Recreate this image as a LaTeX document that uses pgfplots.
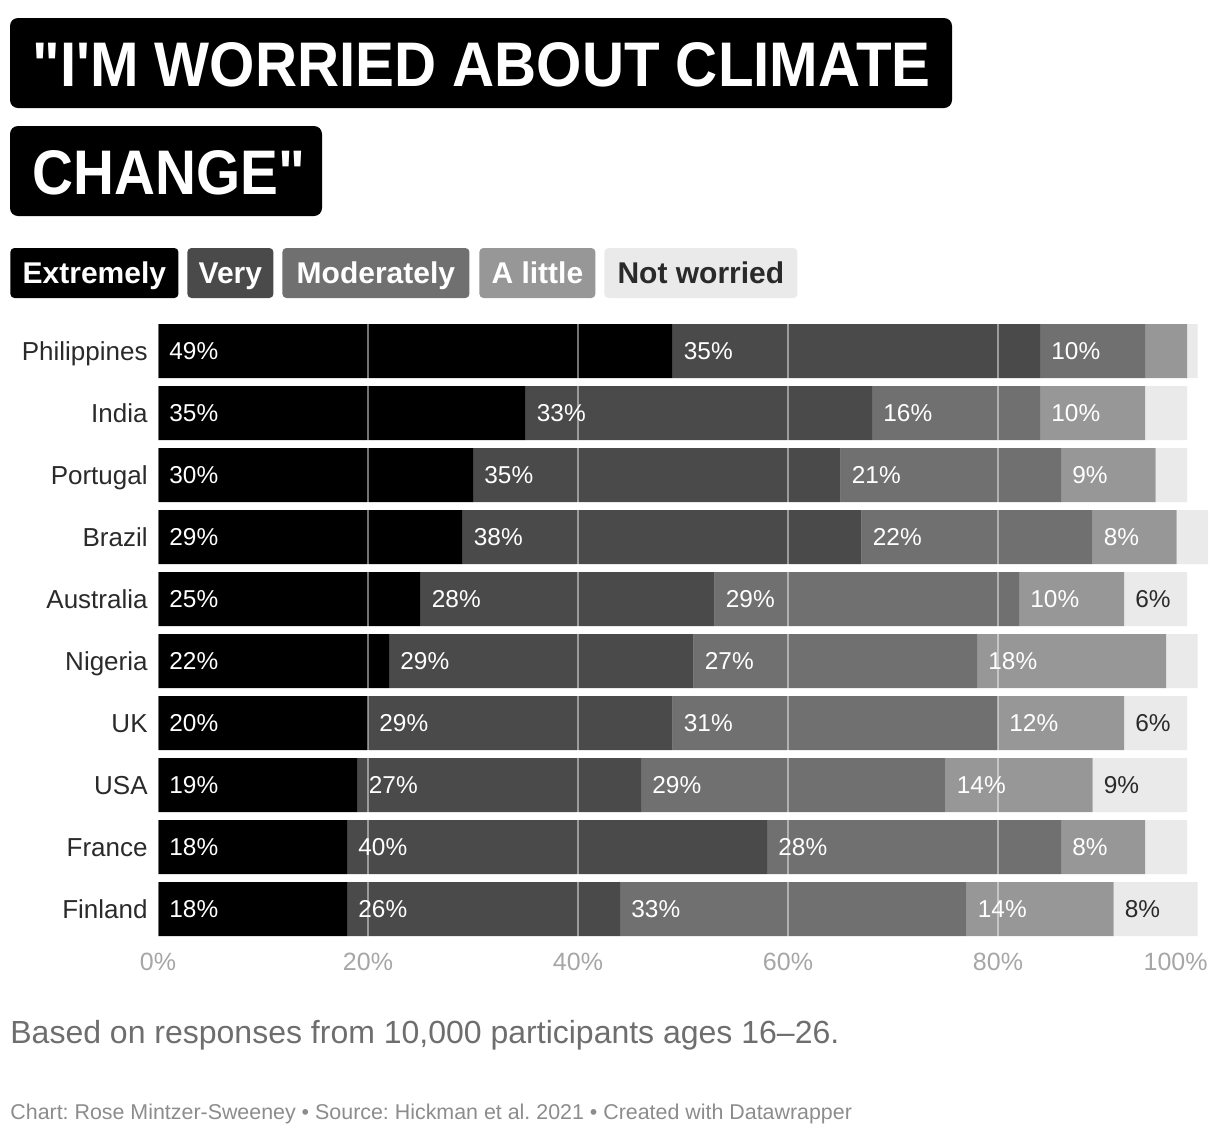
\documentclass[border=0pt]{standalone}
\usepackage{pgfplots}
\pgfplotsset{compat=1.18}
\usepackage{pgfplotstable}
\usepackage{fontspec}
\setmainfont{Liberation Sans}
\newfontfamily\titlefont{Liberation Sans}[FakeStretch=0.9]
\newfontfamily\titlefontwide{Liberation Sans}[FakeStretch=0.925]
\frenchspacing

\definecolor{cE}{HTML}{000000}
\definecolor{cV}{HTML}{4A4A4A}
\definecolor{cM}{HTML}{707070}
\definecolor{cL}{HTML}{979797}
\definecolor{cN}{HTML}{EAEAEA}
\definecolor{ink}{HTML}{2A2A2A}
\definecolor{tickgray}{HTML}{A6A6A6}
\definecolor{subgray}{HTML}{6E6E6E}
\definecolor{notegray}{HTML}{8C8C8C}

% share of respondents (%) per worry level
\pgfplotstableread{
idx country e v m l n
0 Philippines 49 35 10 4 1
1 India 35 33 16 10 4
2 Portugal 30 35 21 9 3
3 Brazil 29 38 22 8 3
4 Australia 25 28 29 10 6
5 Nigeria 22 29 27 18 3
6 UK 20 29 31 12 6
7 USA 19 27 29 14 9
8 France 18 40 28 8 4
9 Finland 18 26 33 14 8
}\worry

\begin{document}
\begin{tikzpicture}
\path[use as bounding box] (0,0) rectangle (610pt,-568pt);
%
% title
\fill[black, rounded corners=4pt] (5pt,-9pt) rectangle (476pt,-54pt);
\node[anchor=base west, inner sep=0pt, text=white,
  font=\titlefontwide\bfseries\fontsize{31.5}{32}\selectfont] at (16pt,-43pt)
  {"I'M WORRIED ABOUT CLIMATE};
\fill[black, rounded corners=4pt] (5pt,-63pt) rectangle (161pt,-108pt);
\node[anchor=base west, inner sep=0pt, text=white,
  font=\titlefont\bfseries\fontsize{31.5}{32}\selectfont] at (16pt,-97pt)
  {CHANGE"};
%
% legend
\tikzset{legbox/.style={anchor=west, rounded corners=2pt, minimum height=25pt,
  inner sep=0pt, text height=10.8pt, text depth=0pt,
  font=\bfseries\fontsize{15}{18}\selectfont}}
\node[legbox, fill=cE, text=white, minimum width=84pt] at (5pt,-136.5pt) {Extremely};
\node[legbox, fill=cV, text=white, minimum width=43pt] at (93.5pt,-136.5pt) {Very};
\node[legbox, fill=cM, text=white, minimum width=93.5pt] at (141pt,-136.5pt) {Moderately};
\node[legbox, fill=cL, text=white, minimum width=58pt] at (239.5pt,-136.5pt) {A little};
\node[legbox, fill=cN, text=ink, minimum width=96.5pt] at (302pt,-136.5pt) {Not worried};
%
\begin{axis}[%
  at={(79pt,-160pt)}, anchor=north west,
  scale only axis, width=525pt, height=310pt,
  xbar stacked, bar width=27pt,
  xmin=0, xmax=100, ymin=-0.5, ymax=9.5, y dir=reverse,
  axis line style={draw=none},
  major tick length=0pt,
  ytick={0,...,9},
  yticklabels from table={\worry}{country},
  yticklabel style={anchor=base east, inner sep=0pt, xshift=-5pt, yshift=-4.6pt,
    text=ink, font=\fontsize{13}{15}\selectfont},
  xtick={0,20,40,60,80},
  xticklabels={0\%,20\%,40\%,60\%,80\%},
  xticklabel style={anchor=north, inner sep=0pt, yshift=-6.5pt, text=tickgray,
    font=\fontsize{12.5}{15}\selectfont},
  extra x ticks={100}, extra x tick labels={100\%},
  extra x tick style={grid=none, xticklabel style={anchor=north east}},
  xmajorgrids,
  grid style={white, opacity=0.45, line width=1pt},
  axis on top,
  /pgf/number format/assume math mode=true,
  % labels sit at the middle of each stacked segment: move them to its start
  seglab/.style 2 args={
    visualization depends on={\thisrow{#1}\as\segw},
    nodes near coords={\ifdim\segw pt<5pt \else\pgfmathprintnumber[fixed,precision=0]{\segw}\%\fi},
    every node near coord/.style={anchor=west, inner sep=0pt,
      xshift={5.5pt-\segw*2.625pt}, text=#2, font=\fontsize{12.2}{15}\selectfont},
  },
]
\addplot[fill=cE, draw=none, seglab={e}{white}] table[x=e, y=idx] {\worry};
\addplot[fill=cV, draw=none, seglab={v}{white}] table[x=v, y=idx] {\worry};
\addplot[fill=cM, draw=none, seglab={m}{white}] table[x=m, y=idx] {\worry};
\addplot[fill=cL, draw=none, seglab={l}{white}] table[x=l, y=idx] {\worry};
\addplot[fill=cN, draw=none, seglab={n}{ink}] table[x=n, y=idx] {\worry};
\end{axis}
%
% notes
\node[anchor=base west, inner sep=0pt, text=subgray,
  font=\fontsize{16}{19}\selectfont] at (5pt,-521.5pt)
  {Based on responses from 10,000 participants ages 16–26.};
\node[anchor=base west, inner sep=0pt, text=notegray,
  font=\fontsize{10.7}{13}\selectfont] at (5pt,-559.5pt)
  {Chart: Rose Mintzer-Sweeney • Source: Hickman et al. 2021 • Created with Datawrapper};
\end{tikzpicture}
\end{document}
